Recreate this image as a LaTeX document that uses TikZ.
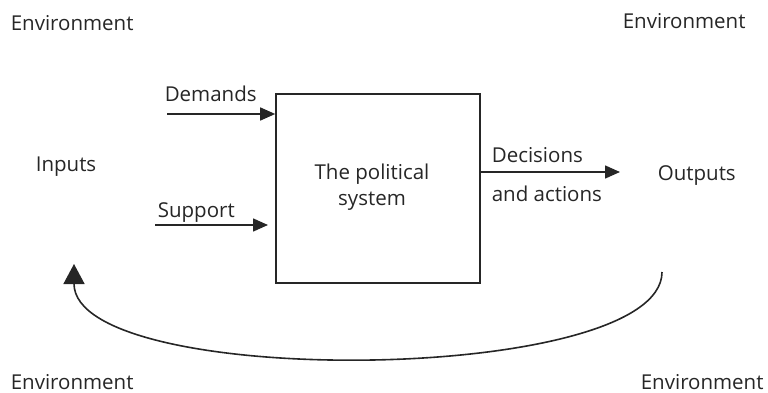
\documentclass[tikz,border=0pt]{standalone}
\usepackage{fontspec}
\setmainfont{Open Sans}
\usetikzlibrary{arrows.meta}

\begin{document}
\begin{tikzpicture}[x=1pt, y=-1pt, line width=1.6pt, draw=black!85,
    txt/.style={inner sep=0pt, text=black!85, font=\fontsize{20.5}{26}\selectfont},
    head/.style={-{Triangle[length=15pt,width=13pt]}}]
  \useasboundingbox (0,0) rectangle (768,393);
  % environment in the four corners
  \node[txt, anchor=base west] (envtl) at (10,31) {Environment};
  \node[txt, anchor=base west] (envtr) at (622,29) {Environment};
  \node[txt, anchor=base west] (envbl) at (10,389) {Environment};
  \node[txt, anchor=base west] (envbr) at (640,389) {Environment};
  % the system
  \node[draw, inner sep=0pt, minimum width=204pt, minimum height=189pt] (sys) at (378,188.5) {};
  \node[txt, align=center] (systxt) at (372,187) {The political\\system};
  % inputs
  \node[txt, anchor=base west] (inputs) at (35,171) {Inputs};
  \coordinate (dem) at (167,114);
  \coordinate (sup) at (155,225);
  \coordinate (supend) at (268,225);
  \draw[head] (dem) -- (sys.west |- dem);
  \draw[head] (sup) -- (supend);
  \node[txt, anchor=base west] (demtxt) at (164,102) {Demands};
  \node[txt, anchor=base west] (suptxt) at (157,217) {Support};
  % outputs
  \coordinate (dec) at (620,172);
  \draw[head] (sys.east |- dec) -- (dec);
  \node[txt, anchor=base west] (dectxt) at (491,162) {Decisions};
  \node[txt, anchor=base west] (acttxt) at (491,201) {and actions};
  \node[txt, anchor=base west] (outputs) at (657,180) {Outputs};
  % feedback
  \coordinate (fbstart) at (662,272);
  \coordinate (fbend) at (74,264);
  \draw[-{Triangle[length=20pt,width=21pt]}] (fbstart)
    .. controls (662,385) and (74,390) .. (fbend);
\end{tikzpicture}
\end{document}
